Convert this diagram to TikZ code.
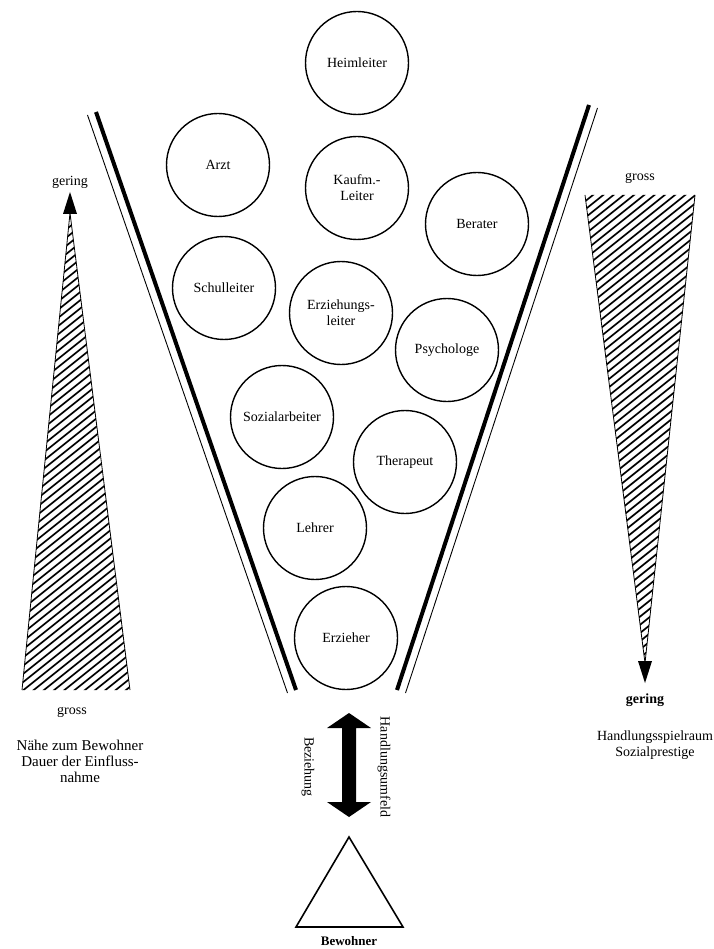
\documentclass[tikz,border=0pt]{standalone}
\usepackage{fontspec}
\setmainfont{Liberation Serif}
\begin{document}
\begin{tikzpicture}[x=1pt,y=-1pt,
  role/.style={circle,draw,line width=1.4pt,minimum size=103pt,inner sep=0pt,align=center,font=\fontsize{14}{16}\selectfont},
  lbl/.style={font=\fontsize{14}{16}\selectfont,align=center,inner sep=0pt},
  hatchline/.style={line width=1.7pt},
  thickwall/.style={line width=4pt},
  thinwall/.style={line width=0.9pt}]
\useasboundingbox (0,0) rectangle (713,949);
% circles
\node[role] (heim) at (357,63) {Heimleiter};
\node[role] (arzt) at (218,165) {Arzt};
\node[role] (kauf) at (357,188) {Kaufm.-\\Leiter};
\node[role] (berater) at (477,224) {Berater};
\node[role] (schul) at (224,288) {Schulleiter};
\node[role] (erzl) at (341,313) {Erziehungs-\\leiter};
\node[role] (psych) at (447,350) {Psychologe};
\node[role] (sozial) at (282,417) {Sozialarbeiter};
\node[role] (thera) at (405,462) {Therapeut};
\node[role] (lehrer) at (315,528) {Lehrer};
\node[role] (erzieher) at (346,638) {Erzieher};
% funnel walls
\coordinate (LT) at (96,112);
\coordinate (LB) at (296,690);
\coordinate (LTo) at (87.5,115);
\coordinate (LBo) at (287.5,693);
\coordinate (RT) at (589,105);
\coordinate (RB) at (397,690);
\coordinate (RTo) at (597.5,108);
\coordinate (RBo) at (405.5,693);
\draw[thickwall] (LT) -- (LB);
\draw[thinwall] (LTo) -- (LBo);
\draw[thickwall] (RT) -- (RB);
\draw[thinwall] (RTo) -- (RBo);
% left hatched wedge
\coordinate (lA) at (70,213);
\coordinate (lL) at (22,690);
\coordinate (lR) at (130,690);
\begin{scope}
\clip (lL) -- (lA) -- (lR) -- cycle;
\foreach \k in {0,...,90} \draw[hatchline] (0,840-8.2*\k) -- ++(160,-128);
\end{scope}
\draw[line width=0.8pt] (lL) -- (lA) -- (lR);
\coordinate (lTip) at (70,192);
\fill (lTip) -- ++(7,22) -- ++(-14,0) -- cycle;
% right hatched wedge
\coordinate (rL) at (585,195);
\coordinate (rR) at (695,195);
\coordinate (rA) at (645,663);
\begin{scope}
\clip (rL) -- (rR) -- (rA) -- cycle;
\foreach \k in {0,...,90} \draw[hatchline] (560,820-8.2*\k) -- ++(160,-128);
\end{scope}
\draw[line width=0.8pt] (rL) -- (rA) -- (rR);
\coordinate (rTip) at (645,683);
\fill (rTip) -- ++(7,-22) -- ++(-14,0) -- cycle;
% labels of wedges
\node[lbl] (lgering) at (70,182) {gering};
\node[lbl] (lgross) at (72,712) {gross};
\node[lbl,font=\fontsize{15}{16}\selectfont] (ltext) at (80,761) {Nähe zum Bewohner\\Dauer der Einfluss-\\nahme};
\node[lbl] (rgross) at (640,178) {gross};
\node[lbl,font=\fontsize{14}{16}\selectfont\bfseries] (rgering) at (645,700) {gering};
\node[lbl] (rtext) at (655,745) {Handlungsspielraum\\Sozialprestige};
% double arrow
\coordinate (aT) at (349,713);
\coordinate (aB) at (349,817);
\fill (aT) -- ++(22,15) -- ++(-15,0) -- ++(0,74) -- ++(15,0) -- (aB) -- ++(-22,-15) -- ++(15,0) -- ++(0,-74) -- ++(-15,0) -- cycle;
\node[lbl,rotate=-90] (bez) at (308,767) {Beziehung};
\node[lbl,rotate=-90] (hand) at (384,767) {Handlungsumfeld};
% Bewohner triangle
\coordinate (bA) at (349,837);
\coordinate (bR) at (403,927);
\coordinate (bL) at (296,927);
\draw[line width=1.6pt,line join=miter] (bA) -- (bR) -- (bL) -- cycle;
\node[lbl,font=\fontsize{13}{15}\selectfont\bfseries] (bew) at (349,941) {Bewohner};
\end{tikzpicture}
\end{document}
